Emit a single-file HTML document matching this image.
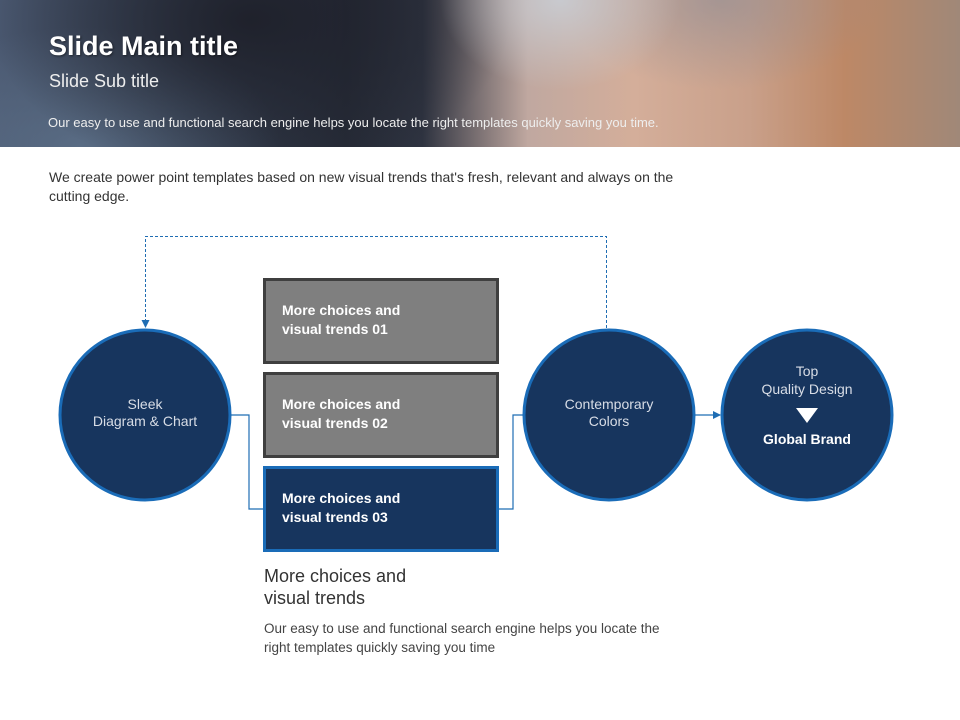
<!DOCTYPE html>
<html><head><meta charset="utf-8"><style>
body{margin:0;width:960px;height:720px;overflow:hidden;background:#fff;font-family:"Liberation Sans",sans-serif;position:relative}
.hdr{position:absolute;left:0;top:0;width:960px;height:147px;
background:
radial-gradient(ellipse 120px 90px at 560px 0px,rgba(200,205,212,0.9),rgba(200,205,212,0) 100%),
radial-gradient(ellipse 160px 90px at 720px 0px,rgba(140,140,150,0.6),rgba(140,140,150,0) 100%),
radial-gradient(ellipse 260px 160px at 250px 20px,rgba(30,32,42,0.95),rgba(30,32,42,0) 100%),
radial-gradient(ellipse 200px 120px at 80px 147px,rgba(95,115,140,0.8),rgba(95,115,140,0) 100%),
linear-gradient(90deg,#4a5870 0%,#3a4558 16%,#262b37 36%,#2e3340 44%,#c0a8a0 55%,#d4ae9a 66%,#c9a08a 78%,#bd8866 88%,#a08878 100%);}
.t{position:absolute;color:#fff}
.txt{position:absolute;color:#333}
</style></head><body>
<div class="hdr"></div>
<div class="t" style="left:49px;top:31px;font-size:27px;font-weight:bold;text-shadow:1px 1px 2px rgba(0,0,0,.5)">Slide Main title</div>
<div class="t" style="left:49px;top:71px;font-size:18px;color:#eee">Slide Sub title</div>
<div class="t" style="left:48px;top:115px;font-size:13px;color:#eee">Our easy to use and functional search engine helps you locate the right templates quickly saving you time.</div>
<div class="txt" style="left:49px;top:168px;width:640px;font-size:14px;line-height:19px">We create power point templates based on new visual trends that's fresh, relevant and always on the cutting edge.</div>
<svg style="position:absolute;left:0;top:0" width="960" height="720">
<defs><marker id="a" markerWidth="8" markerHeight="8" refX="7" refY="4" orient="auto" markerUnits="userSpaceOnUse"><path d="M0,0 L8,4 L0,8z" fill="#1f6db3"/></marker></defs>
<polyline points="606.5,328 606.5,236.5 145.5,236.5 145.5,327" fill="none" stroke="#1f6db3" stroke-width="1" stroke-dasharray="3,2" marker-end="url(#a)"/>
<polyline points="231,415 249,415 249,509 264,509" fill="none" stroke="#1f6db3" stroke-width="1.2"/>
<polyline points="498,509 513,509 513,415 523,415" fill="none" stroke="#1f6db3" stroke-width="1.2"/>
<line x1="695" y1="415" x2="720" y2="415" stroke="#1f6db3" stroke-width="1.2" marker-end="url(#a)"/>
<circle cx="145" cy="415" r="85" fill="#17355e" stroke="#1a6cb8" stroke-width="3"/>
<circle cx="609" cy="415" r="85" fill="#17355e" stroke="#1a6cb8" stroke-width="3"/>
<circle cx="807" cy="415" r="85" fill="#17355e" stroke="#1a6cb8" stroke-width="3"/>
<rect x="264.5" y="279.5" width="233" height="83" fill="#7f7f7f" stroke="#3f3f3f" stroke-width="3"/>
<rect x="264.5" y="373.5" width="233" height="83" fill="#7f7f7f" stroke="#3f3f3f" stroke-width="3"/>
<rect x="264.5" y="467.5" width="233" height="83" fill="#17355e" stroke="#1a6cb8" stroke-width="3"/>
<path d="M796,408 L818,408 L807,423z" fill="#fff"/>
<g font-family="Liberation Sans, sans-serif" fill="#fff">
<g font-size="14" font-weight="bold">
<text x="282" y="315">More choices and</text><text x="282" y="334">visual trends 01</text>
<text x="282" y="409">More choices and</text><text x="282" y="428">visual trends 02</text>
<text x="282" y="503">More choices and</text><text x="282" y="522">visual trends 03</text>
<text x="807" y="444" text-anchor="middle">Global Brand</text>
</g>
<g font-size="14" fill="#d8dde6" text-anchor="middle">
<text x="145" y="409">Sleek</text><text x="145" y="426">Diagram &amp; Chart</text>
<text x="609" y="409">Contemporary</text><text x="609" y="426">Colors</text>
<text x="807" y="376">Top</text><text x="807" y="394">Quality Design</text>
</g></g>
</svg>
<div class="txt" style="left:264px;top:565px;font-size:18px;line-height:22px;color:#333">More choices and<br>visual trends</div>
<div class="txt" style="left:264px;top:619px;width:415px;font-size:13.5px;line-height:19px;color:#444">Our easy to use and functional search engine helps you locate the right templates quickly saving you time</div>
</body></html>
